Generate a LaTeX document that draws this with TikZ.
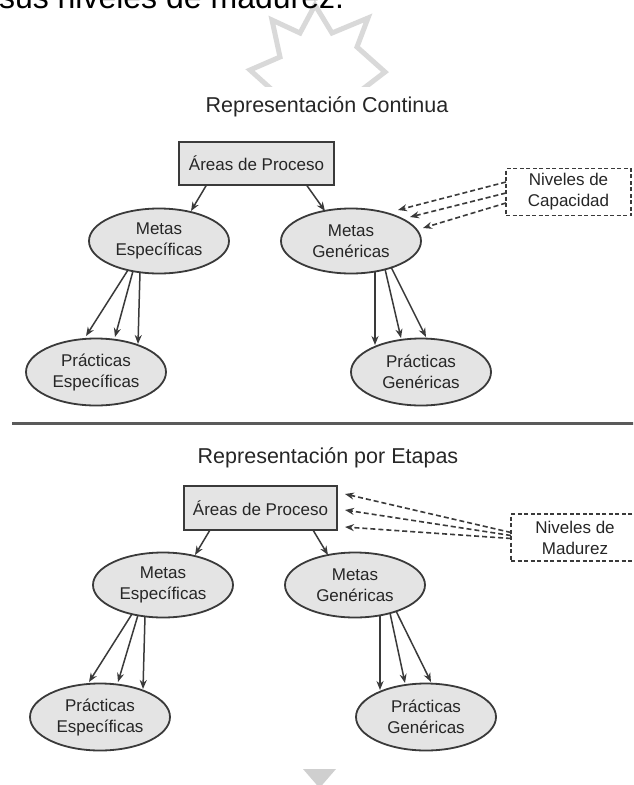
\documentclass[tikz,border=0pt]{standalone}
\usepackage{fontspec}
\setmainfont{Liberation Sans}
\usetikzlibrary{arrows.meta,shapes.geometric}
\definecolor{ink}{HTML}{262626}
\definecolor{edgec}{HTML}{3A3A3A}
\definecolor{fillg}{HTML}{E4E4E4}
\definecolor{wm}{HTML}{D9D9D9}
\definecolor{sepc}{HTML}{5A5A5A}
\definecolor{tri}{HTML}{CFCFCF}
\begin{document}
\begin{tikzpicture}[x=1pt,y=-1pt,
  every node/.style={inner sep=0pt, outer sep=0pt},
  lbl/.style={font=\fontsize{17}{21}\selectfont, text=ink, align=center},
  areabox/.style={lbl, draw=edgec, line width=1.8pt, fill=fillg, minimum height=43pt},
  goal/.style={lbl, ellipse, draw=edgec, line width=1.8pt, fill=fillg, minimum width=140pt, minimum height=65pt},
  lvlbox/.style={lbl, draw=edgec, dash pattern=on 4pt off 2.5pt, line width=1.4pt, fill=white, minimum height=47pt},
  arr/.style={draw=edgec, line width=1.5pt, -{Stealth[length=9pt,width=7pt]}},
  darr/.style={draw=edgec, line width=1.6pt, dash pattern=on 5pt off 3pt, -{Stealth[length=9pt,width=7pt]}},
  titlestyle/.style={font=\fontsize{21.5}{24}\selectfont, text=ink},
  seprule/.style={draw=sepc, line width=3pt},
]
\useasboundingbox (0,0) rectangle (633,785);
\clip (0,0) rectangle (633,785);
\fill[white] (0,0) rectangle (633,785);

% watermark star (upper part only)
\begin{scope}
\clip (0,0) rectangle (633,86);
\draw[wm, line width=5pt, line join=miter]
  (280,97) -- (250,70) -- (280,57) -- (272,20) -- (300,33) -- (315,5) -- (332,33)
  -- (368,18) -- (357,47) -- (385,72) -- (355,95);
\end{scope}

% cut-off line of body text
\node[anchor=base west, font=\fontsize{32}{36}\selectfont, text=black] (bodytxt) at (-1,8) {sus niveles de madurez.};

% ---------- Representación Continua ----------
\node[titlestyle, anchor=base] (t1) at (327,112) {Representación Continua};

\node[areabox, minimum width=155pt] (ap1) at (256.5,163.5) {Áreas de Proceso};
\node[goal] (me1) at (159,241) {Metas\\Específicas};
\node[goal] (mg1) at (351,241) {Metas\\Genéricas};
\node[goal, minimum height=67pt] (pe1) at (96,372) {Prácticas\\Específicas};
\node[goal, minimum height=67pt] (pg1) at (421,372) {Prácticas\\Genéricas};
\node[lvlbox, minimum width=125pt] (nc) at (568.5,192) {Niveles de\\Capacidad};

\draw[arr] ([xshift=-50pt]ap1.south) -- ([shift={(32,-30)}]me1.center);
\draw[arr] ([xshift=50pt]ap1.south) -- ([shift={(-26,-30)}]mg1.center);

\draw[arr] ([shift={(-31,29)}]me1.center) -- ([shift={(-10,-36)}]pe1.center);
\draw[arr] ([shift={(-26,30)}]me1.center) -- ([shift={(19,-35)}]pe1.center);
\draw[arr] ([shift={(-19,31)}]me1.center) -- ([shift={(42,-28)}]pe1.center);

\draw[arr] ([shift={(24,30)}]mg1.center) -- ([shift={(-46,-27)}]pg1.center);
\draw[arr] ([shift={(34,28)}]mg1.center) -- ([shift={(-20,-34)}]pg1.center);
\draw[arr] ([shift={(40,26)}]mg1.center) -- ([shift={(5,-35)}]pg1.center);

\draw[darr] ([shift={(0,-10)}]nc.west) -- ([shift={(47,-31)}]mg1.center);
\draw[darr] ([shift={(0,1)}]nc.west) -- ([shift={(59,-24)}]mg1.center);
\draw[darr] ([shift={(0,11)}]nc.west) -- ([shift={(72,-13)}]mg1.center);

% separator
\coordinate (sepL) at (12,423);
\coordinate (sepR) at (640,423);
\draw[seprule] (sepL) -- (sepR);

% ---------- Representación por Etapas ----------
\node[titlestyle, anchor=base] (t2) at (328,463) {Representación por Etapas};

\node[areabox, minimum width=153pt, minimum height=44pt] (ap2) at (260.5,508) {Áreas de Proceso};
\node[goal] (me2) at (163,585) {Metas\\Específicas};
\node[goal] (mg2) at (355,585) {Metas\\Genéricas};
\node[goal, minimum height=67pt] (pe2) at (100,717) {Prácticas\\Específicas};
\node[goal, minimum height=67pt] (pg2) at (426,717) {Prácticas\\Genéricas};
\node[lvlbox, minimum width=128pt] (nm) at (575,537.5) {Niveles de\\Madurez};

\draw[arr] ([xshift=-50.5pt]ap2.south) -- ([shift={(32,-30)}]me2.center);
\draw[arr] ([xshift=52.5pt]ap2.south) -- ([shift={(-27,-30)}]mg2.center);

\draw[arr] ([shift={(-31,29)}]me2.center) -- ([shift={(-11,-35)}]pe2.center);
\draw[arr] ([shift={(-25,30)}]me2.center) -- ([shift={(18,-35)}]pe2.center);
\draw[arr] ([shift={(-18,31)}]me2.center) -- ([shift={(43,-28)}]pe2.center);

\draw[arr] ([shift={(25,30)}]mg2.center) -- ([shift={(-46,-27)}]pg2.center);
\draw[arr] ([shift={(35,28)}]mg2.center) -- ([shift={(-21,-34)}]pg2.center);
\draw[arr] ([shift={(41,26)}]mg2.center) -- ([shift={(5,-35)}]pg2.center);

\draw[darr] ([shift={(0,-5)}]nm.west) -- ([shift={(8,-14)}]ap2.east);
\draw[darr] ([shift={(0,-2)}]nm.west) -- ([shift={(8,2)}]ap2.east);
\draw[darr] ([shift={(0,1)}]nm.west) -- ([shift={(8,19)}]ap2.east);

% bottom grey marker triangle
\fill[tri] (303,769) -- (336,769) -- (319.5,788) -- cycle;
\end{tikzpicture}
\end{document}
